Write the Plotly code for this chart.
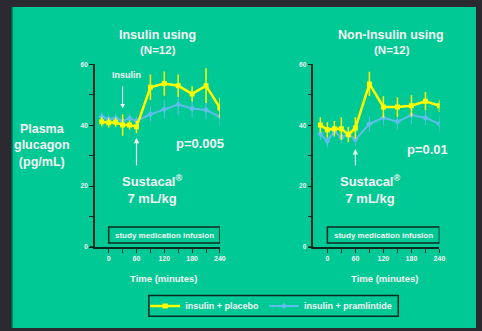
import plotly.graph_objects as go

# Sampling times (minutes) relative to the Sustacal meal
time_min = [-15, 0, 15, 30, 45, 60, 90, 120, 150, 180, 210, 240]

# Insulin-using patients: plasma glucagon (pg/mL), mean and SEM
ins_placebo = [41.2, 40.8, 41.0, 40.1, 40.1, 39.5, 52.5, 53.7, 53.0, 50.3, 53.0, 45.7]
ins_placebo_err = [1.5, 1.5, 1.5, 3.5, 1.5, 2.0, 4.2, 4.0, 3.7, 2.5, 5.7, 3.3]
ins_pram = [42.8, 42.1, 42.3, 41.4, 42.3, 41.4, 43.6, 45.3, 46.8, 45.5, 45.0, 42.8]
ins_pram_err = [1.5, 1.5, 1.5, 1.5, 1.5, 1.5, 2.5, 3.0, 3.5, 3.0, 3.0, 3.0]

# Non-insulin-using patients
non_placebo = [40.1, 38.5, 38.9, 38.9, 36.9, 39.1, 53.6, 46.0, 46.0, 46.4, 47.9, 46.4]
non_placebo_err = [2.5, 2.5, 2.5, 3.7, 2.5, 3.5, 4.0, 3.5, 3.2, 3.5, 3.0, 2.0]
non_pram = [37.1, 34.8, 38.0, 36.1, 37.1, 35.3, 40.4, 42.5, 41.2, 43.4, 42.5, 40.4]
non_pram_err = [2.0, 2.0, 2.0, 2.0, 2.0, 2.0, 2.5, 2.5, 2.5, 3.0, 2.5, 2.5]

series_names = ["insulin + placebo", "insulin + pramlintide"]
panel_titles = ["Insulin using", "Non-Insulin using"]
p_values = ["p=0.005", "p=0.01"]
x_tick_vals = [0, 30, 60, 90, 120, 150, 180, 210, 240]
x_tick_text = ["0", "", "60", "", "120", "", "180", "", "240"]
y_tick_vals = [0, 10, 20, 30, 40, 50, 60]
y_tick_text = ["0", "", "20", "", "40", "", "60"]

W, H = 482, 331
GREEN = "#00C995"
DARK = "#2b2a30"
YELLOW = "#FFFF00"
BLUE = "#5DBDEB"
INK = "#0c2a20"
WHITE = "#F4F4F4"
FONT = "Liberation Sans, Arial, sans-serif"


def px(x):
    return x / W


def py(y):
    return 1 - y / H


def label(x, y, text, size, color=WHITE):
    """Centred bold text placed in figure pixels."""
    return dict(xref="paper", yref="paper", x=px(x), y=py(y), text=text,
                xanchor="center", yanchor="middle", showarrow=False,
                font=dict(family=FONT, size=size, color=color, weight="bold"))


fig = go.Figure()

panels = [
    ("x", "y", ins_placebo, ins_placebo_err, ins_pram, ins_pram_err, True),
    ("x2", "y2", non_placebo, non_placebo_err, non_pram, non_pram_err, False),
]
for xa, ya, yel, yel_e, blu, blu_e, show in panels:
    fig.add_trace(go.Scatter(
        x=time_min, y=blu, xaxis=xa, yaxis=ya, mode="lines+markers",
        name=series_names[1], showlegend=show, legendrank=2,
        line=dict(color=BLUE, width=2),
        marker=dict(symbol="diamond", size=5, color=BLUE),
        error_y=dict(type="data", array=blu_e, color=BLUE, thickness=1, width=0),
    ))
    fig.add_trace(go.Scatter(
        x=time_min, y=yel, xaxis=xa, yaxis=ya, mode="lines+markers",
        name=series_names[0], showlegend=show, legendrank=1,
        line=dict(color=YELLOW, width=2.5),
        marker=dict(symbol="square", size=5, color=YELLOW),
        error_y=dict(type="data", array=yel_e, color=YELLOW, thickness=1.5, width=0),
    ))

y_dom = [py(248.3), py(61.7)]
x_doms = [[px(96), px(222.7)], [px(317.3), px(445)]]

tick_font = dict(family=FONT, size=7, color=WHITE, weight="bold")
for i, dom in enumerate(x_doms):
    sfx = "" if i == 0 else "2"
    fig.update_layout(**{
        f"xaxis{sfx}": dict(
            domain=dom, range=[-30, 240], anchor=f"y{sfx}",
            showline=True, linecolor=INK, linewidth=1.5,
            ticks="outside", ticklen=4, tickwidth=1.2, tickcolor=INK,
            tickvals=x_tick_vals, ticktext=x_tick_text,
            tickfont=tick_font, showgrid=False, zeroline=False, fixedrange=True,
        ),
        f"yaxis{sfx}": dict(
            domain=y_dom, range=[0, 60], anchor=f"x{sfx}",
            showline=True, linecolor=INK, linewidth=1.5,
            ticks="outside", ticklen=4, tickwidth=1.2, tickcolor=INK,
            tickvals=y_tick_vals, ticktext=y_tick_text,
            tickfont=dict(family=FONT, size=6.5, color=WHITE, weight="bold"),
            showgrid=False, zeroline=False, fixedrange=True,
        ),
    })

# Overlay axes draw the upper half of the x ticks (inside the plot)
for i, dom in enumerate(x_doms):
    n = 3 + i
    base = "y" if i == 0 else "y2"
    fig.update_layout(**{
        f"xaxis{n}": dict(
            domain=dom, range=[-30, 240], anchor=base,
            overlaying="x" if i == 0 else "x2",
            showline=False, ticks="inside", ticklen=4, tickwidth=1.2,
            tickcolor=INK, tickvals=x_tick_vals,
            showticklabels=False, showgrid=False, zeroline=False,
        )
    })

shapes = [
    # green slide panel over dark backdrop
    dict(type="rect", xref="paper", yref="paper", x0=px(12), x1=1.0,
         y0=0, y1=py(3), fillcolor=GREEN, line=dict(width=0), layer="below"),
    dict(type="line", xref="paper", yref="paper", x0=px(12), x1=px(12),
         y0=0, y1=py(3), line=dict(color="#0a5a44", width=1.5), layer="below"),
    # frame around the legend entries
    dict(type="rect", xref="paper", yref="paper", x0=px(150.7), x1=px(403.3),
         y0=py(319), y1=py(297.7), line=dict(color=INK, width=1.5)),
]
annotations = []

for i, sfx in enumerate(["", "2"]):
    xr, yr = f"x{sfx}", f"y{sfx}"
    dom = x_doms[i]
    # x-axis line extends slightly left of the y axis
    shapes.append(dict(type="line", xref="paper", yref=yr,
                       x0=dom[0] - px(5), x1=dom[0], y0=0, y1=0,
                       line=dict(color=INK, width=1.5)))
    # infusion period box
    shapes.append(dict(type="rect", xref=xr, yref=yr, x0=0, x1=240,
                       y0=1.3, y1=6.6, line=dict(color=INK, width=1.5)))
    annotations.append(dict(xref=xr, yref=yr, x=120, y=3.95,
                            xanchor="center", yanchor="middle",
                            text="study medication infusion", showarrow=False,
                            font=dict(family=FONT, size=8, color=WHITE, weight="bold")))

annotations += [
    label(166, 280.7, "Time (minutes)", 9.5),
    label(389, 280.7, "Time (minutes)", 9.5),
    # panel titles
    label(159, 31.7, panel_titles[0], 12.5),
    label(160, 46.7, "(N=12)", 11.5),
    label(396, 31.7, panel_titles[1], 12.5),
    label(397, 46.7, "(N=12)", 11.5),
    label(43, 144.3, "Plasma<br>glucagon<br>(pg/mL)", 12.5),
    # p-values
    label(203, 142.7, p_values[0], 13),
    label(433, 148.3, p_values[1], 13),
    # meal labels
    label(154, 189.5, "Sustacal<sup>®</sup><br>7 mL/kg", 13),
    label(375, 189.5, "Sustacal<sup>®</sup><br>7 mL/kg", 13),
    # insulin injection marker
    label(127.7, 72.3, "Insulin", 9),
    dict(xref="x", yref="y", x=30, y=45.5, ax=30, ay=53.3, axref="x", ayref="y",
         text="", showarrow=True, arrowhead=2, arrowsize=0.9, arrowwidth=1,
         arrowcolor=WHITE),
    # meal time markers
    dict(xref="x", yref="y", x=60, y=35.9, ax=60, ay=26.3, axref="x", ayref="y",
         text="", showarrow=True, arrowhead=2, arrowsize=0.9, arrowwidth=1.2,
         arrowcolor=WHITE),
    dict(xref="x2", yref="y2", x=60, y=32.2, ax=60, ay=26.3, axref="x2", ayref="y2",
         text="", showarrow=True, arrowhead=2, arrowsize=0.9, arrowwidth=1.2,
         arrowcolor="#DDF7EE"),
]

fig.update_layout(
    width=W, height=H, margin=dict(l=0, r=0, t=0, b=0),
    paper_bgcolor=DARK, plot_bgcolor="rgba(0,0,0,0)",
    shapes=shapes, annotations=annotations,
    legend=dict(
        orientation="h", x=px(147), y=py(308.4), xanchor="left", yanchor="middle",
        bgcolor="rgba(0,0,0,0)", borderwidth=0,
        font=dict(family=FONT, size=9, color=WHITE, weight="bold"),
        itemwidth=30, tracegroupgap=0,
    ),
)

fig.write_html("out.html")
